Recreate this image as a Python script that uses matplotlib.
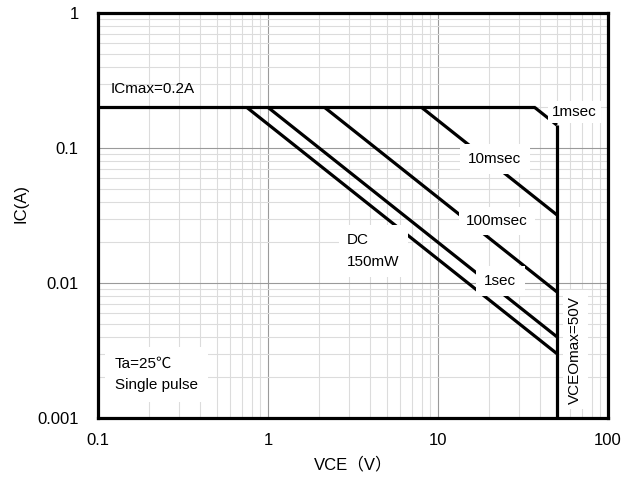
import matplotlib
matplotlib.use("Agg")
import matplotlib.pyplot as plt
from matplotlib.ticker import LogLocator, NullFormatter

plt.rcParams['font.family'] = ['Liberation Sans', 'Noto Sans CJK JP', 'DejaVu Sans']

# ---- data ----
x_ticks = [0.1, 1, 10, 100]
x_ticklabels = ["0.1", "1", "10", "100"]
y_ticks = [0.001, 0.01, 0.1, 1]
y_ticklabels = ["0.001", "0.01", "0.1", "1"]

icmax_v = [0.1, 37.0]
icmax_i = [0.2, 0.2]
vceo_v = [50.0, 50.0]
vceo_i = [0.148, 0.001]

dc_v = [0.75, 50.0];   dc_i = [0.2, 0.003]
s1_v = [1.0, 50.0];    s1_i = [0.2, 0.004]
ms100_v = [2.15, 50.0]; ms100_i = [0.2, 0.0086]
ms10_v = [8.0, 50.0];  ms10_i = [0.2, 0.032]
ms1_v = [37.0, 50.0];  ms1_i = [0.2, 0.148]

fig = plt.figure(figsize=(6.35, 4.86), dpi=100)
ax = fig.add_axes([98/635, 1-418/486, 510/635, 405/486])
ax.set_xscale('log')
ax.set_yscale('log')
ax.set_xlim(0.1, 100)
ax.set_ylim(0.001, 1)

ax.xaxis.set_minor_locator(LogLocator(base=10, subs=range(2, 10)))
ax.yaxis.set_minor_locator(LogLocator(base=10, subs=range(2, 10)))
ax.xaxis.set_minor_formatter(NullFormatter())
ax.yaxis.set_minor_formatter(NullFormatter())
ax.grid(which='major', color='#9a9a9a', lw=0.8)
ax.grid(which='minor', color='#dcdcdc', lw=0.8)
ax.set_axisbelow(True)

ax.set_xticks(x_ticks)
ax.set_xticklabels(x_ticklabels)
ax.set_yticks(y_ticks)
ax.set_yticklabels(y_ticklabels)
ax.tick_params(which='both', length=0, labelsize=12)
ax.tick_params(axis='x', pad=11)
ax.tick_params(axis='y', pad=14)

for s in ax.spines.values():
    s.set_linewidth(2.3)
    s.set_zorder(5)

lw = 2.3
kw = dict(color='black', lw=lw, solid_capstyle='butt', zorder=3)
ax.plot(icmax_v, icmax_i, **kw)
ax.plot(vceo_v, vceo_i, **kw)
for v, i in [(dc_v, dc_i), (s1_v, s1_i), (ms100_v, ms100_i), (ms10_v, ms10_i), (ms1_v, ms1_i)]:
    ax.plot(v, i, **kw)

box = dict(facecolor='white', edgecolor='none', pad=3)
fs = 11
ax.text(0.118, 0.2735, "ICmax=0.2A", fontsize=fs, ha='left', va='center', zorder=4)
ax.text(46.9, 0.185, "1msec", fontsize=fs, ha='left', va='center', bbox=box, zorder=4)
ax.text(21.6, 0.083, "10msec", fontsize=fs, ha='center', va='center',
        bbox=dict(facecolor='white', edgecolor='none', pad=6), zorder=4)
ax.text(22.2, 0.0288, "100msec", fontsize=fs, ha='center', va='center',
        bbox=dict(facecolor='white', edgecolor='none', pad=5), zorder=4)
ax.text(23.2, 0.01035, "1sec", fontsize=fs, ha='center', va='center',
        bbox=dict(facecolor='white', edgecolor='none', pad=6), zorder=4)
ax.text(2.92, 0.0173, "DC\n150mW", fontsize=fs, ha='left', va='center', linespacing=1.7,
        bbox=dict(facecolor='white', edgecolor='none', pad=6), zorder=4)
ax.text(0.1259, 0.0021, "Ta=25\u2103\nSingle pulse", fontsize=fs, ha='left', va='center',
        linespacing=1.7, bbox=dict(facecolor='white', edgecolor='none', pad=7), zorder=4)
ax.text(64.0, 0.0032, "VCEOmax=50V", fontsize=fs, ha='center', va='center', rotation=90,
        bbox=dict(facecolor='white', edgecolor='none', pad=4), zorder=4)

ax.set_xlabel("VCE（V）", fontsize=12, labelpad=6)
ax.set_ylabel("IC(A)", fontsize=12)
ax.yaxis.set_label_coords(-70/510, 0.53)

fig.savefig("out.png", dpi=100, facecolor='white')
